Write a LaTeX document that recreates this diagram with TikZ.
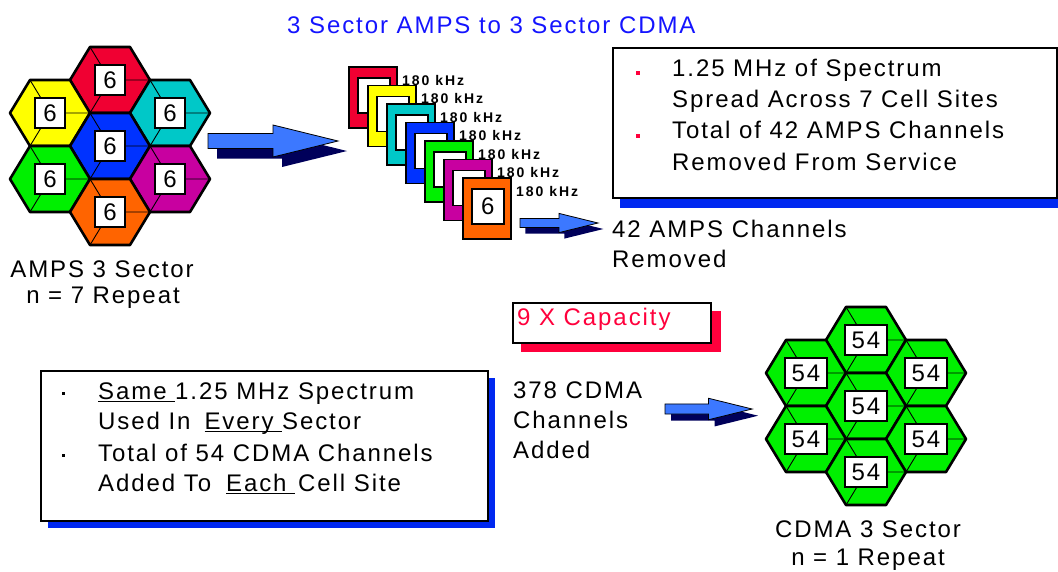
\documentclass[tikz,border=0pt]{standalone}
\usepackage{fontspec}
\setmainfont{Liberation Sans}[LetterSpace=8]
\newfontfamily\tagfont{Liberation Sans}[LetterSpace=14]

\definecolor{cellred}{RGB}{240,0,50}
\definecolor{cellyellow}{RGB}{255,255,0}
\definecolor{cellcyan}{RGB}{0,200,200}
\definecolor{cellblue}{RGB}{0,50,255}
\definecolor{cellgreen}{RGB}{0,240,0}
\definecolor{cellmagenta}{RGB}{200,0,160}
\definecolor{cellorange}{RGB}{255,100,0}
\definecolor{titleblue}{RGB}{20,20,255}
\definecolor{arrowblue}{RGB}{60,120,255}
\definecolor{arrownavy}{RGB}{0,0,90}
\definecolor{shadowblue}{RGB}{0,40,240}
\definecolor{alertred}{RGB}{255,0,60}

% underline a word (and its trailing space) at a fixed depth
\newcommand\ulword[1]{\setbox0=\hbox{#1}\rlap{\rule[-3pt]{\wd0}{1.4pt}}\box0\relax}

\tikzset{
  txt/.style={anchor=base west, inner sep=0pt, font=\fontsize{24}{28}\selectfont},
  ctxt/.style={anchor=base, inner sep=0pt, font=\fontsize{24}{28}\selectfont},
  cellbox/.style={draw, fill=white, line width=1.6pt, inner sep=0pt,
    minimum height=30, font=\fontsize{24}{24}\selectfont},
  chanbox/.style={draw, fill=white, line width=1.5pt, inner sep=0pt,
    minimum width=32, minimum height=35, font=\fontsize{24}{24}\selectfont},
  khz/.style={anchor=base west, inner sep=0pt, font=\tagfont\bfseries\fontsize{14}{14}\selectfont},
  panel/.style={draw, fill=white, line width=2pt, anchor=north west, inner sep=0pt},
  % one three-sector hexagonal cell: fill colour, label box width, label
  pics/cell/.style n args={3}{code={
    \path[draw=black, line width=2.6pt, fill=#1, line join=round]
      (-40,0) -- (-20,-33) -- (20,-33) -- (40,0) -- (20,33) -- (-20,33) -- cycle;
    \draw[line width=0.9pt] (0,0) -- (40,0) (0,0) -- (-20,-33) (0,0) -- (-20,33);
    \node[cellbox, minimum width=#2] (-lbl) at (0,0) {#3};
  }},
  % one 180 kHz channel card
  pics/chan/.style={code={
    \draw[line width=1.5pt, fill=#1] (0,0) rectangle (48,61);
    \node[chanbox, anchor=north west] (-lbl) at (8,10) {6};
    \node[khz] (-tag) at (53,18) {180 kHz};
  }},
  % block arrow with its dark drop shadow
  pics/fatarrow/.style={code={
    \fill[arrownavy, shift={(9,10)}] (0,-7.5) -- (65,-7.5) -- (65,-16) -- (130,0)
      -- (65,16) -- (65,7.5) -- (0,7.5) -- cycle;
    \draw[fill=arrowblue, line width=0.8pt] (0,-7.5) -- (65,-7.5) -- (65,-16) -- (130,0)
      -- (65,16) -- (65,7.5) -- (0,7.5) -- cycle;
  }}
}

\begin{document}
\begin{tikzpicture}[x=1pt, y=-1pt]
\useasboundingbox (0,0) rectangle (1058,571);

% title
\node[txt, text=titleblue] (title) at (287,33) {3 Sector AMPS to 3 Sector CDMA};

% AMPS cluster, n = 7
\pic (a1) at (110,80)  {cell={cellred}{30}{6}};
\pic (a2) at (50,113)  {cell={cellyellow}{30}{6}};
\pic (a3) at (170,113) {cell={cellcyan}{30}{6}};
\pic (a4) at (110,146) {cell={cellblue}{30}{6}};
\pic (a5) at (50,179)  {cell={cellgreen}{30}{6}};
\pic (a6) at (170,179) {cell={cellmagenta}{30}{6}};
\pic (a7) at (110,212) {cell={cellorange}{30}{6}};
\node[ctxt] (amps1) at (102,277) {AMPS 3 Sector};
\node[ctxt] (amps2) at (103,303) {n = 7 Repeat};

% arrow to the channel stack
\pic (arr1) at (208,141) {fatarrow};

% stack of AMPS channel cards
\pic (k1) at (349,67)   {chan=cellred};
\pic (k2) at (368,85.5) {chan=cellyellow};
\pic (k3) at (387,104)  {chan=cellcyan};
\pic (k4) at (406,122.5){chan=cellblue};
\pic (k5) at (425,141)  {chan=cellgreen};
\pic (k6) at (444,159.5){chan=cellmagenta};
\pic (k7) at (463,178)  {chan=cellorange};

\pic[scale=0.6] (arr2) at (520,223) {fatarrow};
\node[txt] (rem1) at (612,237) {42 AMPS Channels};
\node[txt] (rem2) at (612,267) {Removed};

% spectrum note
\fill[shadowblue] (620,56) rectangle (1066,208);
\node[panel, minimum width=444, minimum height=150] (spread) at (612,47) {};
\fill[alertred] (636,71) rectangle (640,75);
\fill[alertred] (636,134) rectangle (640,138);
\node[txt] (s1) at (672,76)  {1.25 MHz of Spectrum};
\node[txt] (s2) at (672,107) {Spread Across 7 Cell Sites};
\node[txt] (s3) at (672,138) {Total of 42 AMPS Channels};
\node[txt] (s4) at (672,170) {Removed From Service};

% capacity tag
\fill[alertred] (521,311) rectangle (721,352);
\node[panel, line width=1.6pt, minimum width=198, minimum height=40] (cap) at (512,302) {};
\node[txt, text=alertred] (capt) at (517,325) {9 X Capacity};

% CDMA note
\fill[shadowblue] (48,378) rectangle (495,528);
\node[panel, minimum width=447, minimum height=150] (same) at (40,370) {};
\fill (62,392) rectangle (65,395);
\fill (62,454) rectangle (65,457);
\node[txt] (c1) at (98,399) {\ulword{Same\ }1.25 MHz Spectrum};
\node[txt] (c2) at (98,429) {Used In\hspace{14pt}\ulword{Every\ }Sector};
\node[txt] (c3) at (98,461) {Total of 54 CDMA Channels};
\node[txt] (c4) at (98,491) {Added To\hspace{15pt}\ulword{Each\ }\hspace{3pt}Cell Site};

\node[txt] (add1) at (513,398) {378 CDMA};
\node[txt] (add2) at (513,428) {Channels};
\node[txt] (add3) at (513,458) {Added};

\pic[scale=0.67] (arr3) at (665,409) {fatarrow};

% CDMA cluster, n = 1
\pic (b1) at (866,340) {cell={cellgreen}{42}{54}};
\pic (b2) at (806,373) {cell={cellgreen}{42}{54}};
\pic (b3) at (926,373) {cell={cellgreen}{42}{54}};
\pic (b4) at (866,406) {cell={cellgreen}{42}{54}};
\pic (b5) at (806,439) {cell={cellgreen}{42}{54}};
\pic (b6) at (926,439) {cell={cellgreen}{42}{54}};
\pic (b7) at (866,472) {cell={cellgreen}{42}{54}};
\node[ctxt] (cdma1) at (868,537) {CDMA 3 Sector};
\node[ctxt] (cdma2) at (868,565) {n = 1 Repeat};
\end{tikzpicture}
\end{document}
